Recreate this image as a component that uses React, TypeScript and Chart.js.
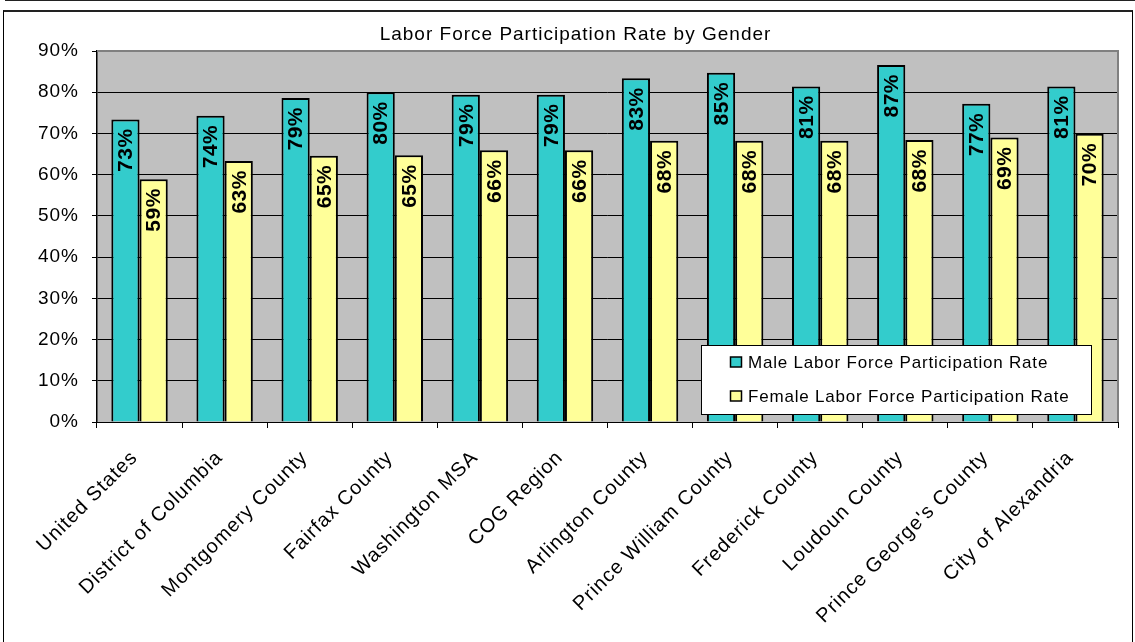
import React, { useEffect, useRef } from 'react';
import { Chart, registerables } from 'chart.js';

Chart.register(...registerables);

const chartTitle = 'Labor Force Participation Rate by Gender';
const categories = [
  'United States',
  'District of Columbia',
  'Montgomery County',
  'Fairfax County',
  'Washington MSA',
  'COG Region',
  'Arlington County',
  'Prince William County',
  'Frederick County',
  'Loudoun County',
  "Prince George's County",
  'City of Alexandria',
];
const seriesNames = ['Male Labor Force Participation Rate', 'Female Labor Force Participation Rate'];
const maleRate = [73.4, 74.3, 78.6, 80.0, 79.4, 79.4, 83.4, 84.7, 81.4, 86.6, 77.2, 81.4];
const femaleRate = [58.9, 63.3, 64.6, 64.7, 65.9, 65.9, 68.2, 68.2, 68.2, 68.4, 69.0, 69.9];
const seriesColors = ['#33CCCC', '#FFFF99'];
const yMin = 0;
const yMax = 90;
const yStep = 10;

const FONT = 'Arial, "Liberation Sans", sans-serif';

const decorPlugin = {
  id: 'decor',
  beforeDraw(chart: any) {
    const { ctx, chartArea } = chart;
    ctx.save();
    ctx.fillStyle = '#C0C0C0';
    ctx.fillRect(chartArea.left, chartArea.top, chartArea.right - chartArea.left, chartArea.bottom - chartArea.top);
    ctx.restore();
    ctx.letterSpacing = '1px';
  },
  afterDatasetsDraw(chart: any) {
    const { ctx } = chart;
    ctx.save();
    ctx.letterSpacing = '0.5px';
    ctx.font = `bold 21px ${FONT}`;
    ctx.fillStyle = '#000';
    ctx.textAlign = 'right';
    ctx.textBaseline = 'middle';
    chart.data.datasets.forEach((ds: any, di: number) => {
      const meta = chart.getDatasetMeta(di);
      meta.data.forEach((el: any, i: number) => {
        const v = ds.data[i];
        ctx.save();
        ctx.translate(el.x, el.y + 9);
        ctx.rotate(-Math.PI / 2);
        ctx.fillText(Math.round(v) + '%', 0, 1);
        ctx.restore();
      });
    });
    ctx.restore();
  },
  afterDraw(chart: any) {
    const { ctx, chartArea } = chart;
    ctx.save();
    ctx.strokeStyle = '#808080';
    ctx.lineWidth = 2;
    ctx.beginPath();
    ctx.moveTo(chartArea.left, chartArea.top);
    ctx.lineTo(chartArea.right, chartArea.top);
    ctx.lineTo(chartArea.right, chartArea.bottom);
    ctx.stroke();

    ctx.letterSpacing = '1px';
    ctx.font = `19px ${FONT}`;
    ctx.fillStyle = '#000';
    ctx.textAlign = 'center';
    ctx.textBaseline = 'middle';
    ctx.fillText(chartTitle, 571.5, 23);

    const lx = 697, ly = 333, lw = 390, lh = 69;
    ctx.fillStyle = '#FFFFFF';
    ctx.fillRect(lx, ly, lw, lh);
    ctx.strokeStyle = '#000';
    ctx.lineWidth = 1;
    ctx.strokeRect(lx + 0.5, ly + 0.5, lw, lh);
    const rows = [350, 384];
    seriesNames.forEach((name, i) => {
      const cy = rows[i];
      ctx.fillStyle = seriesColors[i];
      ctx.fillRect(726.5, cy - 5, 11, 10);
      ctx.strokeStyle = '#000';
      ctx.lineWidth = 1.5;
      ctx.strokeRect(726.5, cy - 5, 11, 10);
      ctx.fillStyle = '#000';
      ctx.textAlign = 'left';
      ctx.textBaseline = 'middle';
      ctx.font = `17px ${FONT}`;
      ctx.letterSpacing = '0.8px';
      ctx.fillText(name, 744, cy + 1);
    });
    ctx.restore();
  },
};

export default function App() {
  const ref = useRef<HTMLCanvasElement | null>(null);

  useEffect(() => {
    document.body.style.margin = '0';
    const canvas = ref.current;
    if (!canvas) return;
    const chart = new Chart(canvas, {
      type: 'bar',
      data: {
        labels: categories,
        datasets: [
          {
            label: seriesNames[0],
            data: maleRate,
            backgroundColor: seriesColors[0],
            borderColor: '#000',
            borderWidth: 2,
            categoryPercentage: 0.663,
            barPercentage: 1,
          },
          {
            label: seriesNames[1],
            data: femaleRate,
            backgroundColor: seriesColors[1],
            borderColor: '#000',
            borderWidth: 2,
            categoryPercentage: 0.663,
            barPercentage: 1,
          },
        ],
      },
      options: {
        responsive: false,
        animation: false,
        devicePixelRatio: 1,
        layout: { padding: { top: 39, right: 15, left: 0, bottom: 0 } },
        plugins: {
          legend: { display: false },
          title: { display: false },
          tooltip: { enabled: false },
        },
        scales: {
          x: {
            grid: {
              display: true,
              drawOnChartArea: false,
              drawTicks: true,
              tickLength: 6,
              color: '#000',
              tickColor: '#000',
              offset: true,
            },
            border: { color: '#000', width: 1 },
            ticks: {
              autoSkip: false,
              maxRotation: 45,
              minRotation: 45,
              padding: 18,
              labelOffset: -5,
              color: '#000',
              font: { family: FONT, size: 20 },
            },
            afterFit(scale: any) {
              scale.height = 220;
            },
          },
          y: {
            min: yMin,
            max: yMax,
            grid: {
              color: '#000',
              lineWidth: 1,
              tickLength: 5,
              tickColor: '#000',
            },
            border: { color: '#000', width: 1.5 },
            ticks: {
              stepSize: yStep,
              padding: 13,
              color: '#000',
              font: { family: FONT, size: 19 },
              callback: (v: any) => v + '%',
            },
            afterFit(scale: any) {
              scale.width = 93;
            },
          },
        },
      },
      plugins: [decorPlugin],
    });
    return () => chart.destroy();
  }, []);

  return (
    <div style={{ position: 'relative', width: 1135, height: 642, overflow: 'hidden', background: '#fff' }}>
      <div
        style={{
          position: 'absolute',
          left: 5,
          top: -10,
          width: 1140,
          height: 9,
          borderLeft: '1px solid #222',
          borderBottom: '2px solid #222',
        }}
      />
      <div
        style={{
          position: 'absolute',
          left: 3,
          top: 10,
          width: 1128,
          height: 640,
          borderTop: '2px solid #222',
          borderLeft: '1px solid #000',
          borderRight: '1px solid #000',
        }}
      />
      <canvas ref={ref} width={1129} height={630} style={{ position: 'absolute', left: 4, top: 12 }} />
    </div>
  );
}
